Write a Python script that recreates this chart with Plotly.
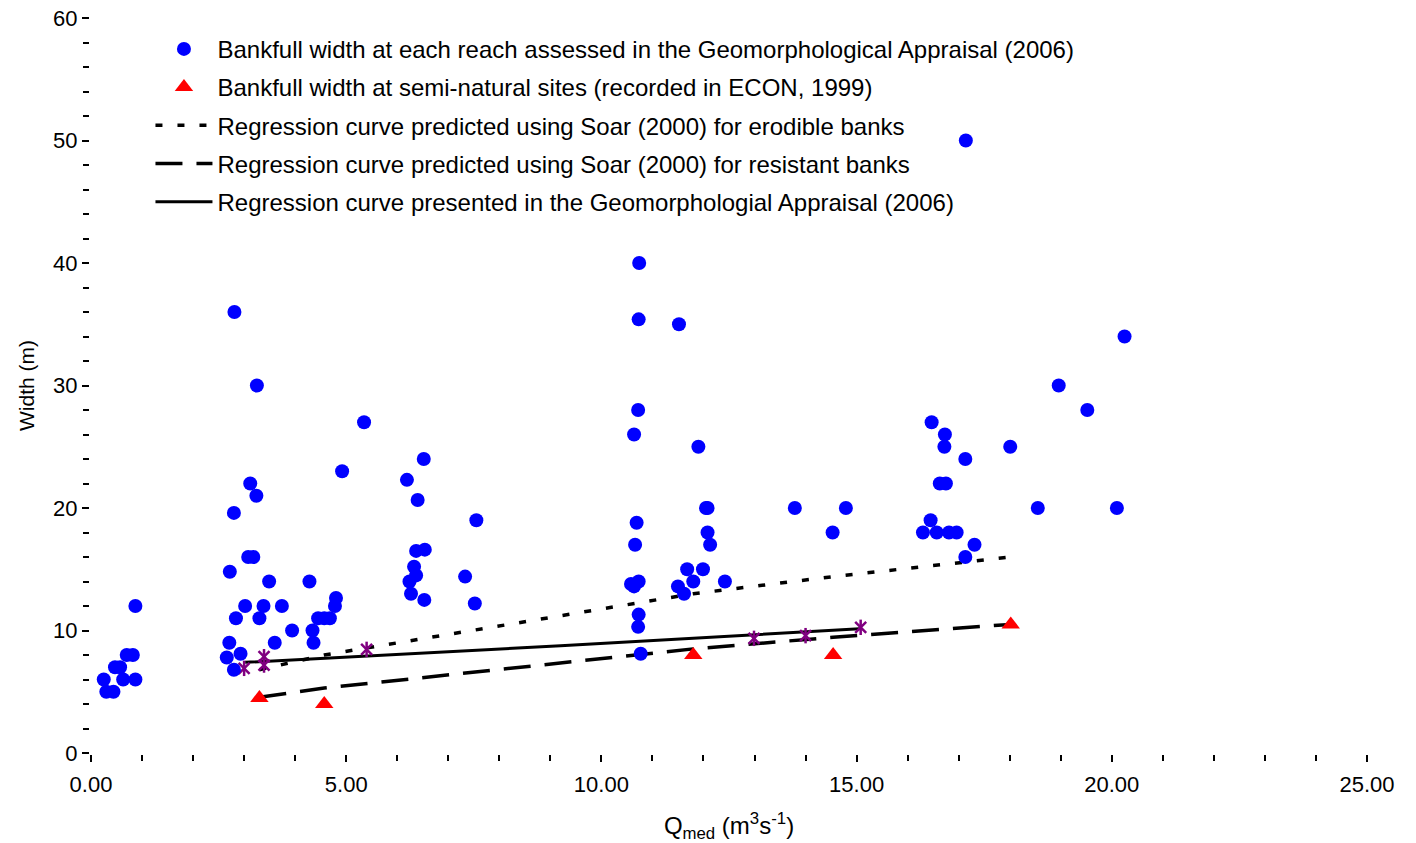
import plotly.graph_objects as go

# Bankfull width at each reach (Geomorphological Appraisal 2006)
reach_q = [0.25, 0.30, 0.44, 0.47, 0.57, 0.63, 0.70, 0.82, 0.87, 0.87,
           2.66, 2.71, 2.72, 2.80, 2.80, 2.81, 2.84, 2.93, 3.02, 3.08,
           3.12, 3.18, 3.24, 3.25, 3.30, 3.38, 3.49, 3.60, 3.74, 3.94,
           4.28, 4.34, 4.36, 4.45, 4.57, 4.68, 4.78, 4.80, 4.92, 5.35,
           6.19, 6.24, 6.27, 6.33, 6.37, 6.37, 6.40, 6.52, 6.53, 6.54,
           7.33, 7.52, 7.55,
           10.58, 10.64, 10.64, 10.66, 10.69, 10.72, 10.72, 10.73, 10.73, 10.73,
           10.74, 10.77, 11.50, 11.52, 11.62, 11.68, 11.80, 11.90, 11.99, 12.05,
           12.08, 12.08, 12.13, 12.42,
           13.79, 14.53, 14.79,
           16.30, 16.45, 16.47, 16.57, 16.63, 16.72, 16.73, 16.75, 16.81, 16.96,
           17.13, 17.13, 17.14, 17.31, 18.01, 18.55, 18.96, 19.52, 20.10, 20.25]
reach_w = [6, 5, 5, 7, 7, 6, 8, 8, 6, 12,
           7.8, 9.0, 14.8, 6.8, 19.6, 36, 11, 8.1, 12, 16,
           22, 16, 21, 30, 11, 12, 14, 9, 12, 10,
           14, 10, 9, 11, 11, 11, 12, 12.65, 23, 27,
           22.3, 14, 13, 15.2, 14.5, 16.5, 20.65, 24, 12.5, 16.6,
           14.4, 12.2, 19,
           13.8, 13.6, 26, 17, 18.8, 28, 10.3, 14.0, 11.3, 35.4,
           40, 8.1, 13.6, 35, 13, 15, 14, 25, 15, 20,
           20, 18, 17, 14,
           20, 18, 20,
           18, 19, 27, 18, 22, 25, 26, 22, 18, 18,
           24, 16, 50, 17, 25, 20, 30, 28, 20, 34]

# Semi-natural sites (ECON, 1999)
econ_q = [3.30, 4.57, 11.80, 14.54, 18.02]
econ_w = [4.5, 4.0, 8.0, 8.0, 10.5]

# Soar (2000) regression curves
soar_q = [3.30, 4.57, 11.80, 14.54, 18.02]
soar_erodible_w = [6.8, 8.0, 13.0, 14.4, 16.0]
soar_resistant_w = [4.55, 5.3, 8.5, 9.45, 10.5]

# Geomorphological Appraisal (2006) regression curve
ga_q = [3.02, 9.2, 15.06]
ga_w = [7.4, 8.75, 10.15]

# Additional marked points (purple stars)
star_q = [3.00, 3.39, 3.39, 5.40, 12.99, 14.00, 15.08]
star_w = [6.91, 7.86, 7.18, 8.46, 9.36, 9.58, 10.26]

FONT = "Arial, Liberation Sans, sans-serif"

fig = go.Figure()

fig.add_trace(go.Scatter(x=reach_q, y=reach_w, mode="markers", legendgroup="g1", zorder=2,
                         marker=dict(color="#0000FF", size=14, symbol="circle"),
                         name="Bankfull width at each reach assessed in the Geomorphological Appraisal (2006)"))
fig.add_trace(go.Scatter(x=econ_q, y=econ_w, mode="markers", legendgroup="g2", zorder=2,
                         marker=dict(color="#FF0000", size=16, symbol="triangle-up"),
                         name="Bankfull width at semi-natural sites (recorded in ECON, 1999)"))
fig.add_trace(go.Scatter(x=soar_q, y=soar_erodible_w, mode="lines", legendgroup="g3", zorder=0,
                         line=dict(color="black", width=3.5, dash="7px,15px"),
                         name="Regression curve predicted using Soar (2000) for erodible banks"))
fig.add_trace(go.Scatter(x=soar_q, y=soar_resistant_w, mode="lines", legendgroup="g4", zorder=0,
                         line=dict(color="black", width=3.5, dash="27px,14px"),
                         name="Regression curve predicted using Soar (2000) for resistant banks"))
fig.add_trace(go.Scatter(x=ga_q, y=ga_w, mode="lines", legendgroup="g5", zorder=0,
                         line=dict(color="black", width=3),
                         name="Regression curve presented in the Geomorphologial Appraisal (2006)"))
fig.add_trace(go.Scatter(x=star_q, y=star_w, mode="markers", showlegend=False, zorder=1,
                         marker=dict(color="#800080", size=11, symbol="x-thin-open",
                                     line=dict(color="#800080", width=2.5))))
fig.add_trace(go.Scatter(x=star_q, y=star_w, mode="markers", showlegend=False, zorder=1,
                         marker=dict(color="#800080", size=11, symbol="line-ns-open",
                                     line=dict(color="#800080", width=2.5))))

fig.update_layout(
    width=1416, height=843,
    margin=dict(l=91, r=49, t=18, b=90),
    plot_bgcolor="white", paper_bgcolor="white",
    font=dict(family=FONT, size=22, color="black"),
    legend=dict(x=0.0466, y=0.988, xanchor="left", yanchor="top",
                bgcolor="rgba(0,0,0,0)", font=dict(size=24),
                itemwidth=57, tracegroupgap=4, traceorder="grouped"),
    xaxis=dict(range=[0, 25], tickvals=[0, 5, 10, 15, 20, 25], tickformat=".2f",
               showgrid=False, zeroline=False, showline=True, linecolor="black",
               linewidth=2, ticks="outside", ticklen=7, tickwidth=2, tickcolor="black",
               minor=dict(dtick=1, ticks="outside", ticklen=6, tickwidth=2, tickcolor="black"),
               title=dict(text="Q<sub>med</sub> (m<sup>3</sup>s<sup>-1</sup>)", font=dict(size=24), standoff=30),
               tickfont=dict(size=22), ticklabelstandoff=4, automargin=False,
               ticklabeloverflow="allow"),
    yaxis=dict(range=[0, 60], dtick=10, showgrid=False, zeroline=False, showline=True,
               linecolor="black", linewidth=2, ticks="outside", ticklen=7, tickwidth=2,
               tickcolor="black",
               minor=dict(dtick=2, ticks="outside", ticklen=6, tickwidth=2, tickcolor="black"),
               title=dict(text="Width (m)", font=dict(size=21), standoff=13),
               tickfont=dict(size=22), automargin=False, ticklabeloverflow="allow"),
)

fig.write_html("out.html", config={"displayModeBar": False},
               post_script="document.body.style.margin='0';")
